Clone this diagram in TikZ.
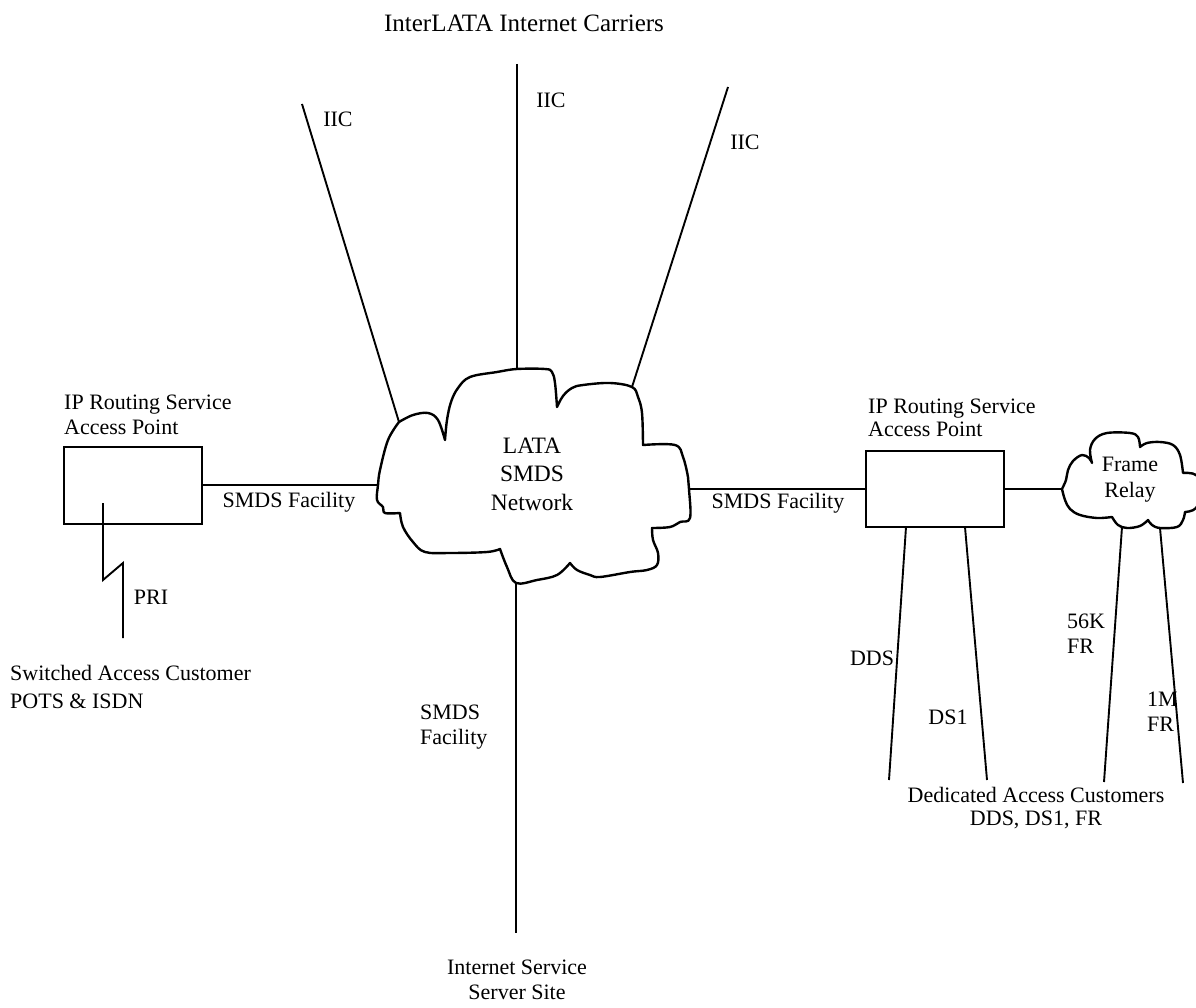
\documentclass[tikz,border=0pt]{standalone}
\usepackage{fontspec}
\setmainfont{Liberation Serif}
\begin{document}
\begin{tikzpicture}[x=1pt,y=-1pt,
  lbl/.style={font=\fontsize{22}{25}\selectfont, inner sep=0pt},
  wire/.style={line width=1.9pt},
  outline/.style={line width=2.4pt, line join=round, line cap=round},
  boxnode/.style={draw, line width=2pt, minimum width=138pt, minimum height=77pt, inner sep=0pt},
  bump/.style={smooth, tension=0.6}
]
\useasboundingbox (0,0) rectangle (1196,1008);

% ---------- title
\node[lbl, font=\fontsize{25}{28}\selectfont] (title) at (524,23) {InterLATA Internet Carriers};

% ---------- LATA SMDS cloud
\coordinate (cT1) at (399,422);
\coordinate (cT2) at (517,369);
\coordinate (cT3) at (632,387);
\coordinate (cR)  at (689,489);
\coordinate (cB)  at (516,583);
\coordinate (cL)  at (378,485);
\draw[outline]
  plot[bump] coordinates {(399,422) (413,415) (428,413) (438,420) (445,440)}
  -- plot[bump] coordinates {(445,440) (447,420) (451,402) (458,388) (470,377) (497,372) (517,369) (545,369) (552,372) (555,383) (557,407)}
  -- plot[bump] coordinates {(557,407) (563,396) (572,388) (583,385) (610,383) (632,387) (638,397) (642,413) (643,445)}
  -- plot[bump] coordinates {(643,445) (675,445) (683,457) (688,477) (689,489) (690,518) (680,522) (670,527) (652,528)}
  -- plot[bump] coordinates {(652,528) (653,540) (658,553) (657,565) (647,570) (630,572) (600,577) (590,575) (577,570) (570,563)}
  -- plot[bump] coordinates {(570,563) (557,575) (537,580) (516,583) (507,567) (500,549)}
  -- plot[bump] coordinates {(500,549) (487,552) (450,553) (425,552) (413,542) (403,527) (400,513)}
  -- plot[bump] coordinates {(400,513) (385,513) (383,507) (377,500) (378,485) (380,470) (388,440) (399,422)}
  -- cycle;
\node[lbl, font=\fontsize{23.5}{28.5}\selectfont, align=center] (lata) at (532,474) {LATA\\SMDS\\Network};

% ---------- IIC lines
\coordinate (iic1) at (302,104);
\coordinate (iic2) at (517,64);
\coordinate (iic3) at (728,87);
\draw[wire] (iic1) -- (cT1);
\draw[wire] (iic2) -- (cT2);
\draw[wire] (iic3) -- (cT3);
\node[lbl] (l1) at (338,119) {IIC};
\node[lbl] (l2) at (551,100) {IIC};
\node[lbl] (l3) at (745,142) {IIC};

% ---------- left access point
\node[boxnode] (lbox) at (133,485) {};
\node[lbl, align=left, anchor=west] (lboxlbl) at (64,415) {IP Routing Service\\Access Point};
\draw[wire] (lbox.east) -- (cL);
\node[lbl] (lsmds) at (289,502) {SMDS Facility};

% PRI
\coordinate (pri0) at (103,503);
\coordinate (pri1) at (103,580);
\coordinate (pri2) at (123,563);
\coordinate (pri3) at (123,638);
\draw[wire, line join=miter] (pri0) -- (pri1) -- (pri2) -- (pri3);
\node[lbl] (pri) at (151,597) {PRI};
\node[lbl, align=left, anchor=west, font=\fontsize{22}{27.5}\selectfont] (sw) at (10,687) {Switched Access Customer\\POTS \& ISDN};

% ---------- bottom server site
\coordinate (srv) at (516,933);
\draw[wire] (cB) -- (srv);
\node[lbl, align=left, anchor=west] (bsmds) at (420,727) {SMDS\\Facility};
\node[lbl, align=center] (site) at (517,980) {Internet Service\\Server Site};

% ---------- right access point
\node[boxnode, minimum height=76pt] (rbox) at (935,489) {};
\node[lbl, align=left, anchor=west, font=\fontsize{22}{23.5}\selectfont] (rboxlbl) at (868,418) {IP Routing Service\\Access Point};
\draw[wire] (cR) -- (rbox.west);
\node[lbl] (rsmds) at (778,503) {SMDS Facility};

% ---------- frame relay cloud
\coordinate (frL) at (1062,489);
\coordinate (fr56) at (1122,527);
\coordinate (fr1m) at (1160,528);
\begin{scope}
\clip (0,0) rectangle (1196,1008);
\draw[outline]
  plot[bump] coordinates {(1062,489) (1066,480) (1068,470) (1073,461) (1082,455) (1089,458) (1092,463)}
  -- plot[bump] coordinates {(1092,463) (1090,450) (1095,439) (1107,433) (1130,433) (1138,437) (1140,447)}
  -- plot[bump] coordinates {(1140,447) (1147,443) (1160,442) (1173,445) (1180,455) (1183,473)}
  -- plot[bump] coordinates {(1183,473) (1196,475) (1203,490) (1196,508) (1185,512)}
  -- plot[bump] coordinates {(1185,512) (1183,520) (1177,527) (1160,528) (1152,525) (1148,520)}
  -- plot[bump] coordinates {(1148,520) (1140,526) (1127,528) (1118,525) (1112,517)}
  -- plot[bump] coordinates {(1112,517) (1097,518) (1080,515) (1070,509) (1065,500) (1062,489)}
  -- cycle;
\end{scope}
\node[lbl, align=center, font=\fontsize{22}{26}\selectfont] (fr) at (1130,480) {Frame\\Relay};
\draw[wire] (rbox.east) -- (frL);

% ---------- dedicated access lines
\coordinate (ddsT) at (906,527);
\coordinate (ds1T) at (965,527);
\coordinate (ddsB) at (889,780);
\coordinate (ds1B) at (987,780);
\coordinate (f56B) at (1104,782);
\coordinate (f1mB) at (1183,783);
\draw[wire] (ddsT) -- (ddsB);
\draw[wire] (ds1T) -- (ds1B);
\draw[wire] (fr56) -- (f56B);
\draw[wire] (fr1m) -- (f1mB);
\node[lbl] (dds) at (872,658) {DDS};
\node[lbl] (ds1) at (948,717) {DS1};
\node[lbl, align=left, anchor=west] (l56) at (1067,634) {56K\\FR};
\node[lbl, align=left, anchor=west] (l1m) at (1147,712) {1M\\FR};
\node[lbl, align=center, font=\fontsize{22}{23.5}\selectfont] (ded) at (1036,808) {Dedicated Access Customers\\DDS, DS1, FR};
\end{tikzpicture}
\end{document}
